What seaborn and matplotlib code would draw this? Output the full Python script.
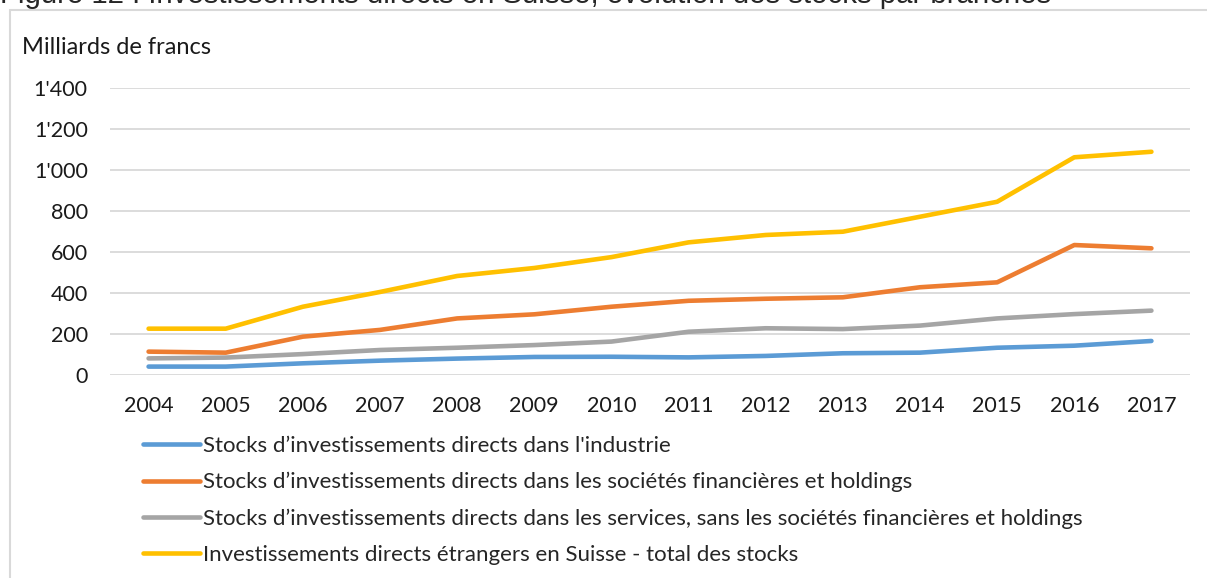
import pandas as pd
import matplotlib
matplotlib.use("Agg")
import matplotlib.pyplot as plt
from matplotlib.patches import Rectangle
from matplotlib.ticker import FuncFormatter
import seaborn as sns

annees = [str(a) for a in range(2004, 2018)]

industrie = [41, 41, 57, 70, 80, 88, 89, 86, 93, 106, 109, 133, 143, 166]
financieres = [114, 109, 187, 220, 276, 296, 333, 362, 372, 379, 428, 452, 634, 618]
services = [81, 85, 102, 122, 133, 146, 163, 211, 228, 224, 241, 276, 297, 314]
total = [226, 226, 333, 405, 483, 522, 575, 647, 683, 699, 772, 845, 1062, 1089]

series = [
    "Stocks d\u2019investissements directs dans l'industrie",
    "Stocks d\u2019investissements directs dans les sociétés financières et holdings",
    "Stocks d\u2019investissements directs dans les services, sans les sociétés financières et holdings",
    "Investissements directs étrangers en Suisse - total des stocks",
]
couleurs = ["#5B9BD5", "#ED7D31", "#A5A5A5", "#FFC000"]

data = pd.DataFrame({"annee": annees * 4,
                     "valeur": industrie + financieres + services + total,
                     "serie": [s for s in series for _ in annees]})

sns.set_style("white")
plt.rcParams["font.family"] = ["Lato", "DejaVu Sans"]

fig = plt.figure(figsize=(12.07, 5.78), dpi=100)
ax = fig.add_axes([110 / 1207, 1 - 375 / 578, 1080 / 1207, 287 / 578])

sns.lineplot(data=data, x="annee", y="valeur", hue="serie", palette=couleurs,
             linewidth=3.3, ax=ax, legend=False, solid_capstyle="round")

ax.set_xlim(-0.5, 13.5)
ax.set_ylim(0, 1400)
ax.set_yticks(range(0, 1401, 200))
ax.yaxis.set_major_formatter(FuncFormatter(lambda v, p: f"{int(v):,}".replace(",", "'")))
ax.grid(axis="y", color="#D9D9D9", linewidth=1.3)
ax.set_axisbelow(True)
for s in ax.spines.values():
    s.set_visible(False)
ax.tick_params(axis="both", length=0, labelsize=15.5, labelcolor="#1a1a1a")
ax.tick_params(axis="y", pad=16)
ax.tick_params(axis="x", pad=15)
ax.set_xlabel("")
ax.set_ylabel("")

# legende
handles = [plt.Line2D([], [], color=c, linewidth=3.3, solid_capstyle="round") for c in couleurs]
fig.legend(handles, series, loc="upper left", bbox_to_anchor=(143 / 1207, 1 - 436 / 578),
           frameon=False, fontsize=16, handlelength=2.55, handletextpad=0.13,
           labelspacing=0.72, borderpad=0, borderaxespad=0)

fig.text(22 / 1207, 1 - 47 / 578, "Milliards de francs", fontsize=17, va="center", ha="left",
         color="#1a1a1a")

# titre coupé en haut
fig.text(0, 1 - 3 / 578, "Figure 12 : Investissements directs en Suisse, évolution des stocks par branches",
         fontsize=21.2, family="Liberation Sans", va="baseline", ha="left")

fig.patches.append(Rectangle((9.5 / 1207, -0.1), 1.2, 1 - 10.5 / 578 + 0.1, transform=fig.transFigure,
                             fill=False, edgecolor="#D9D9D9", linewidth=1.5))

fig.savefig("out.png", dpi=100)
